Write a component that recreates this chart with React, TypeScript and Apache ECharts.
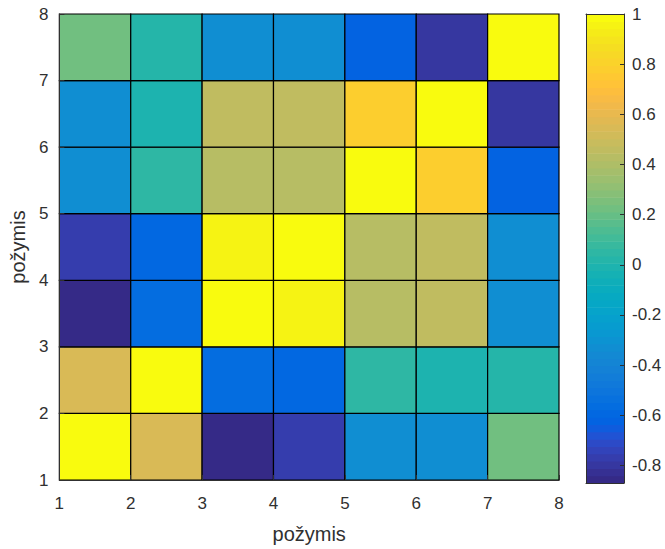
import React, { useEffect, useRef } from "react";
import * as echarts from "echarts";

// Axis ticks
const X_TICKS = [1, 2, 3, 4, 5, 6, 7, 8];
const CB_TICKS = [-0.8, -0.6, -0.4, -0.2, 0, 0.2, 0.4, 0.6, 0.8, 1];
const X_NAME = "požymis";
const Y_NAME = "požymis";

// Correlation matrix, rows from bottom (y = 1) to top (y = 7), columns x = 1..7
const ROW_1 = [1, 0.55, -0.87, -0.76, -0.33, -0.32, 0.22];
const ROW_2 = [0.55, 1, -0.57, -0.6, 0.04, -0.02, 0.03];
const ROW_3 = [-0.87, -0.57, 1, 0.96, 0.42, 0.47, -0.33];
const ROW_4 = [-0.76, -0.6, 0.96, 1, 0.42, 0.47, -0.33];
const ROW_5 = [-0.33, 0.04, 0.42, 0.42, 1, 0.78, -0.62];
const ROW_6 = [-0.32, -0.02, 0.47, 0.47, 0.78, 1, -0.8];
const ROW_7 = [0.22, 0.03, -0.33, -0.33, -0.62, -0.8, 1];
const MATRIX = [ROW_1, ROW_2, ROW_3, ROW_4, ROW_5, ROW_6, ROW_7];

// MATLAB parula colormap (64 levels)
const PARULA: number[][] = [
  [0.2081, 0.1663, 0.5292], [0.2116, 0.1898, 0.5777], [0.2123, 0.2138, 0.627], [0.2081, 0.2386, 0.6771],
  [0.1959, 0.2645, 0.7279], [0.1707, 0.2919, 0.7792], [0.1253, 0.3242, 0.8303], [0.0591, 0.3598, 0.8683],
  [0.0117, 0.3875, 0.882], [0.006, 0.4086, 0.8828], [0.0165, 0.4266, 0.8786], [0.0329, 0.443, 0.872],
  [0.0498, 0.4586, 0.8641], [0.0629, 0.4737, 0.8554], [0.0723, 0.4887, 0.8467], [0.0779, 0.504, 0.8384],
  [0.0793, 0.52, 0.8312], [0.0749, 0.5375, 0.8263], [0.0641, 0.557, 0.824], [0.0488, 0.5772, 0.8228],
  [0.0343, 0.5966, 0.8199], [0.0265, 0.6137, 0.8135], [0.0239, 0.6287, 0.8038], [0.0231, 0.6418, 0.7913],
  [0.0228, 0.6535, 0.7768], [0.0267, 0.6642, 0.7607], [0.0384, 0.6743, 0.7436], [0.059, 0.6838, 0.7254],
  [0.0843, 0.6928, 0.7062], [0.1133, 0.7015, 0.6859], [0.1453, 0.7098, 0.6646], [0.1801, 0.7177, 0.6424],
  [0.2178, 0.725, 0.6193], [0.2586, 0.7317, 0.5954], [0.3022, 0.7376, 0.5712], [0.3482, 0.7424, 0.5473],
  [0.3953, 0.7459, 0.5244], [0.442, 0.7481, 0.5033], [0.4871, 0.7491, 0.484], [0.53, 0.7491, 0.4661],
  [0.5709, 0.7485, 0.4494], [0.6099, 0.7473, 0.4337], [0.6473, 0.7456, 0.4188], [0.6834, 0.7435, 0.4044],
  [0.7184, 0.7411, 0.3905], [0.7525, 0.7384, 0.3768], [0.7858, 0.7356, 0.3633], [0.8185, 0.7327, 0.3498],
  [0.8507, 0.7299, 0.336], [0.8824, 0.7274, 0.3217], [0.9139, 0.7258, 0.3063], [0.945, 0.7261, 0.2886],
  [0.9739, 0.7314, 0.2666], [0.9938, 0.7455, 0.2403], [0.999, 0.7653, 0.2164], [0.9955, 0.7861, 0.1967],
  [0.988, 0.8066, 0.1794], [0.9789, 0.8271, 0.1633], [0.9697, 0.8481, 0.1475], [0.9626, 0.8705, 0.1309],
  [0.9589, 0.8949, 0.1132], [0.9598, 0.9218, 0.0948], [0.9661, 0.9514, 0.0755], [0.9763, 0.9831, 0.0538],
];

const toRgb = (c: number[]) =>
  `rgb(${Math.round(c[0] * 255)},${Math.round(c[1] * 255)},${Math.round(c[2] * 255)})`;

const TEXT = "#303030";
const FONT = "'Liberation Sans', Arial, Helvetica, sans-serif";

export default function App() {
  const ref = useRef<HTMLDivElement>(null);

  useEffect(() => {
    if (!ref.current) return;
    const chart = echarts.init(ref.current, null, { renderer: "svg" });

    const all = MATRIX.flat();
    const cmin = Math.min(...all);
    const cmax = Math.max(...all);
    const m = PARULA.length;
    const colorOf = (v: number) => {
      let idx = Math.floor(((v - cmin) / (cmax - cmin)) * m);
      if (idx >= m) idx = m - 1;
      if (idx < 0) idx = 0;
      return toRgb(PARULA[idx]);
    };

    const cells: number[][] = [];
    MATRIX.forEach((row, r) => {
      row.forEach((v, c) => {
        cells.push([X_TICKS[c], X_TICKS[r], v]);
      });
    });

    const bands: number[][] = PARULA.map((_, i) => [
      0,
      cmin + ((cmax - cmin) * i) / m,
      i,
    ]);

    const labelStyle = { color: TEXT, fontSize: 17, fontFamily: FONT };

    chart.setOption({
      animation: false,
      backgroundColor: "#ffffff",
      grid: [
        { left: 56, top: 14, width: 503, height: 469 },
        { left: 586, top: 14, width: 38, height: 469 },
      ],
      xAxis: [
        {
          type: "value",
          gridIndex: 0,
          min: 1,
          max: 8,
          interval: 1,
          axisLine: { show: true, lineStyle: { color: TEXT, width: 1 } },
          axisTick: { show: true, inside: true, length: 5, lineStyle: { color: TEXT } },
          axisLabel: { ...labelStyle, margin: 15 },
          splitLine: { show: false },
          name: X_NAME,
          nameLocation: "middle",
          nameGap: 44,
          nameTextStyle: { color: TEXT, fontSize: 20, fontFamily: FONT },
          z: 5,
        },
        {
          type: "value",
          gridIndex: 1,
          min: 0,
          max: 1,
          position: "bottom",
          axisLine: { show: true, onZero: false, lineStyle: { color: TEXT, width: 1 } },
          axisTick: { show: false },
          axisLabel: { show: false },
          splitLine: { show: false },
          z: 5,
        },
        {
          type: "value",
          gridIndex: 1,
          min: 0,
          max: 1,
          position: "top",
          axisLine: { show: true, onZero: false, lineStyle: { color: TEXT, width: 1 } },
          axisTick: { show: false },
          axisLabel: { show: false },
          splitLine: { show: false },
          z: 5,
        },
      ],
      yAxis: [
        {
          type: "value",
          gridIndex: 0,
          min: 1,
          max: 8,
          interval: 1,
          axisLine: { show: true, lineStyle: { color: TEXT, width: 1 } },
          axisTick: { show: true, inside: true, length: 5, lineStyle: { color: TEXT } },
          axisLabel: { ...labelStyle, margin: 11 },
          splitLine: { show: false },
          name: Y_NAME,
          nameLocation: "middle",
          nameGap: 27,
          nameTextStyle: { color: TEXT, fontSize: 20, fontFamily: FONT },
          z: 5,
        },
        {
          type: "value",
          gridIndex: 1,
          min: cmin,
          max: cmax,
          position: "right",
          axisLine: { show: true, onZero: false, lineStyle: { color: TEXT, width: 1 } },
          axisTick: {
            show: true,
            inside: true,
            length: 4,
            customValues: CB_TICKS,
            lineStyle: { color: TEXT },
          },
          axisLabel: {
            ...labelStyle,
            margin: 8,
            customValues: CB_TICKS,
            formatter: (v: number) => String(v),
          },
          splitLine: { show: false },
          z: 5,
        },
        {
          type: "value",
          gridIndex: 1,
          min: cmin,
          max: cmax,
          position: "left",
          axisLine: { show: true, onZero: false, lineStyle: { color: TEXT, width: 1 } },
          axisTick: { show: false },
          axisLabel: { show: false },
          splitLine: { show: false },
          z: 5,
        },
      ],
      series: [
        {
          type: "custom",
          xAxisIndex: 0,
          yAxisIndex: 0,
          data: cells,
          encode: { x: 0, y: 1 },
          renderItem: (params: any, api: any) => {
            const x = api.value(0);
            const y = api.value(1);
            const v = api.value(2);
            const p0 = api.coord([x, y]);
            const p1 = api.coord([x + 1, y + 1]);
            return {
              type: "rect",
              shape: {
                x: p0[0],
                y: p1[1],
                width: p1[0] - p0[0],
                height: p0[1] - p1[1],
              },
              style: { fill: colorOf(v), stroke: "#000000", lineWidth: 1.2 },
            };
          },
        },
        {
          type: "custom",
          xAxisIndex: 1,
          yAxisIndex: 1,
          data: bands,
          encode: { x: 0, y: 1 },
          renderItem: (params: any, api: any) => {
            const lo = api.value(1);
            const i = api.value(2);
            const hi = lo + (cmax - cmin) / m;
            const p0 = api.coord([0, lo]);
            const p1 = api.coord([1, hi]);
            return {
              type: "rect",
              shape: {
                x: p0[0],
                y: p1[1],
                width: p1[0] - p0[0],
                height: p0[1] - p1[1] + 0.6,
              },
              style: { fill: toRgb(PARULA[i]), stroke: null },
            };
          },
        },
      ],
    });

    return () => chart.dispose();
  }, []);

  return <div ref={ref} style={{ width: 665, height: 549, position: "absolute", left: 0, top: 0 }} />;
}
